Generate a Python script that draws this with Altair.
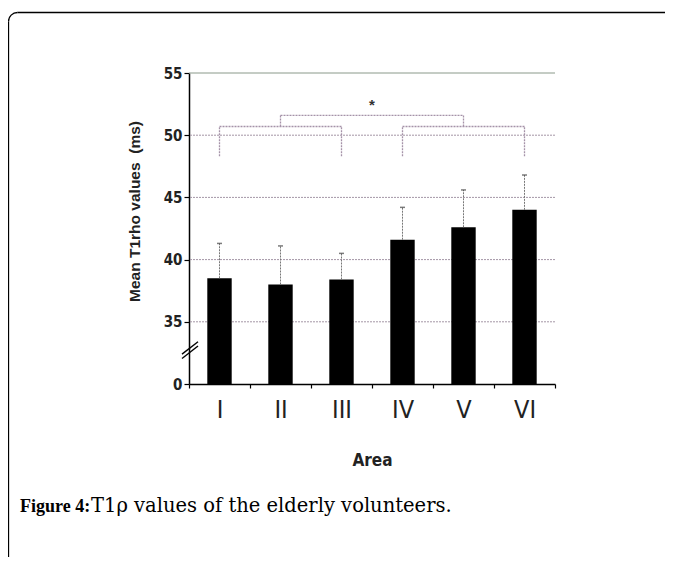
import altair as alt
import pandas as pd

# ---- data ----
areas = ["I", "II", "III", "IV", "V", "VI"]
means = [38.5, 38.0, 38.4, 41.6, 42.6, 44.0]
upper = [41.3, 41.1, 40.5, 44.2, 45.6, 46.8]

grid_dashed_values = [35, 40, 45, 50]
grid_top_value = [55]
tick_values = [30, 35, 40, 45, 50, 55]   # 30 is shown as "0" (broken axis)

h_from = ["I", "IV", "II"]
h_to = ["III", "VI", "V"]
h_level = [50.7, 50.7, 51.6]

v_area = ["I", "III", "IV", "VI", "II", "V"]
v_low = [48.3, 48.3, 48.3, 48.3, 50.7, 50.7]
v_high = [50.7, 50.7, 50.7, 50.7, 51.6, 51.6]

star_area = ["III"]
star_level = [52.4]
star_text = ["*"]

break_low = [32.05, 32.4]
break_high = [33.05, 33.4]

caption_bold = ["Figure 4:"]
caption_rest = ["T1ρ values of the elderly volunteers."]

y_title = "Mean T1rho values\u00a0\u00a0(ms)"
x_title = "Area"

# ---- tables ----
bars_df = pd.DataFrame({"area": areas, "mean": means, "upper": upper})
grid_df = pd.DataFrame({"g": grid_dashed_values})
top_df = pd.DataFrame({"g": grid_top_value})
h_df = pd.DataFrame({"a1": h_from, "a2": h_to, "lvl": h_level})
v_df = pd.DataFrame({"area": v_area, "lo": v_low, "hi": v_high})
star_df = pd.DataFrame({"area": star_area, "lvl": star_level, "t": star_text})
break_df = pd.DataFrame({"lo": break_low, "hi": break_high})
capb_df = pd.DataFrame({"t": caption_bold})
capr_df = pd.DataFrame({"t": caption_rest})
one_df = pd.DataFrame({"k": [0]})

NARROW = "DejaVu Sans Condensed, Liberation Sans Narrow, Arial Narrow, Liberation Sans"

xs = alt.Scale(domain=areas, paddingInner=0, paddingOuter=0)
ys = alt.Scale(domain=[30, 55], nice=False, zero=False)

x_axis = alt.Axis(
    title=x_title, labelAngle=0, tickBand="extent", tickSize=4, labelPadding=9,
    labelFont=NARROW, labelFontSize=25, labelFontWeight="normal", labelColor="#222",
    titleFont=NARROW, titleFontSize=17, titleFontWeight="bold", titleColor="#222",
    titleY=76, titleBaseline="middle",
    domainColor="black", domainWidth=1.5, tickColor="black", tickWidth=1.2, grid=False,
)
y_axis = alt.Axis(
    title=y_title, values=tick_values,
    labelExpr="datum.value == 30 ? '0' : datum.label",
    tickSize=5, labelPadding=2,
    labelFont=NARROW, labelFontSize=15, labelFontWeight="bold", labelColor="#222",
    titleFont="Liberation Sans", titleFontSize=15.5, titleFontWeight="bold", titleColor="#222",
    titleX=-55, titleY=138, titleAngle=-90, titleAlign="center", titleBaseline="middle",
    domainColor="black", domainWidth=1.5, tickColor="black", tickWidth=1.2, grid=False,
)


def X(field):
    return alt.X(field, scale=xs, sort=areas, axis=x_axis, title=x_title)


def Y(field):
    return alt.Y(field, scale=ys, axis=y_axis, title=y_title)


# page frame (left edge, top edge and rounded corner)
frame_left = alt.Chart(one_df).mark_rule(color="black", strokeWidth=1.3).encode(
    x=alt.value(-180.5), y=alt.value(-51.5), y2=alt.value(490))
frame_top = alt.Chart(one_df).mark_rule(color="black", strokeWidth=1.3).encode(
    x=alt.value(-171.5), x2=alt.value(490), y=alt.value(-60.5))
frame_corner = alt.Chart(one_df).mark_arc(
    color="black", radius=9.65, radius2=8.35, theta=4.712389, theta2=6.283185
).encode(x=alt.value(-171.5), y=alt.value(-51.5))

grid = alt.Chart(grid_df).mark_rule(color="#a496a6", strokeDash=[2, 1], strokeWidth=1).encode(
    y=Y("g:Q"))
top = alt.Chart(top_df).mark_rule(color="#8a998a", strokeWidth=1).encode(y=Y("g:Q"))

bars = alt.Chart(bars_df).mark_bar(color="black", width=alt.RelativeBandSize(0.4)).encode(
    x=X("area:N"), y=Y("mean:Q"), y2=alt.datum(30))

err = alt.Chart(bars_df).mark_rule(color="#777777", strokeDash=[2, 1], strokeWidth=1).encode(
    x=X("area:N"), y=Y("mean:Q"), y2="upper:Q")
caps = alt.Chart(bars_df).mark_tick(color="#444444", size=5, thickness=1.5).encode(
    x=X("area:N"), y=Y("upper:Q"))

br_col = "#a592a8"
hbr = alt.Chart(h_df).mark_rule(color=br_col, strokeDash=[2, 1], strokeWidth=1.3).encode(
    x=X("a1:N"), x2="a2:N", y=Y("lvl:Q"))
vbr = alt.Chart(v_df).mark_rule(color=br_col, strokeDash=[2, 1], strokeWidth=1.3).encode(
    x=X("area:N"), y=Y("lo:Q"), y2="hi:Q")
star = alt.Chart(star_df).mark_text(
    fontSize=15, font="Liberation Sans", fontWeight="bold", color="#333", dx=30.5, baseline="middle"
).encode(x=X("area:N"), y=Y("lvl:Q"), text="t:N")

brk = alt.Chart(break_df).mark_rule(color="black", strokeWidth=1.4).encode(
    x=alt.value(-7), x2=alt.value(9), y=Y("lo:Q"), y2="hi:Q")

capb = alt.Chart(capb_df).mark_text(
    align="left", baseline="alphabetic", font="Liberation Serif", fontWeight="bold",
    fontSize=18, color="black"
).encode(x=alt.value(-169), y=alt.value(439), text="t:N")
capr = alt.Chart(capr_df).mark_text(
    align="left", baseline="alphabetic", font="DejaVu Serif", fontSize=19.5, color="black"
).encode(x=alt.value(-98), y=alt.value(439), text="t:N")

chart = alt.layer(
    frame_left, frame_top, frame_corner, grid, top, bars, err, caps, hbr, vbr, star, brk, capb, capr
).properties(
    width=366, height=311,
    padding={"left": 181, "top": 65, "right": 110, "bottom": 173},
    autosize="none", background="white",
).configure_view(stroke=None)

chart.save("out.html", embed_options={"renderer": "svg", "actions": False})
